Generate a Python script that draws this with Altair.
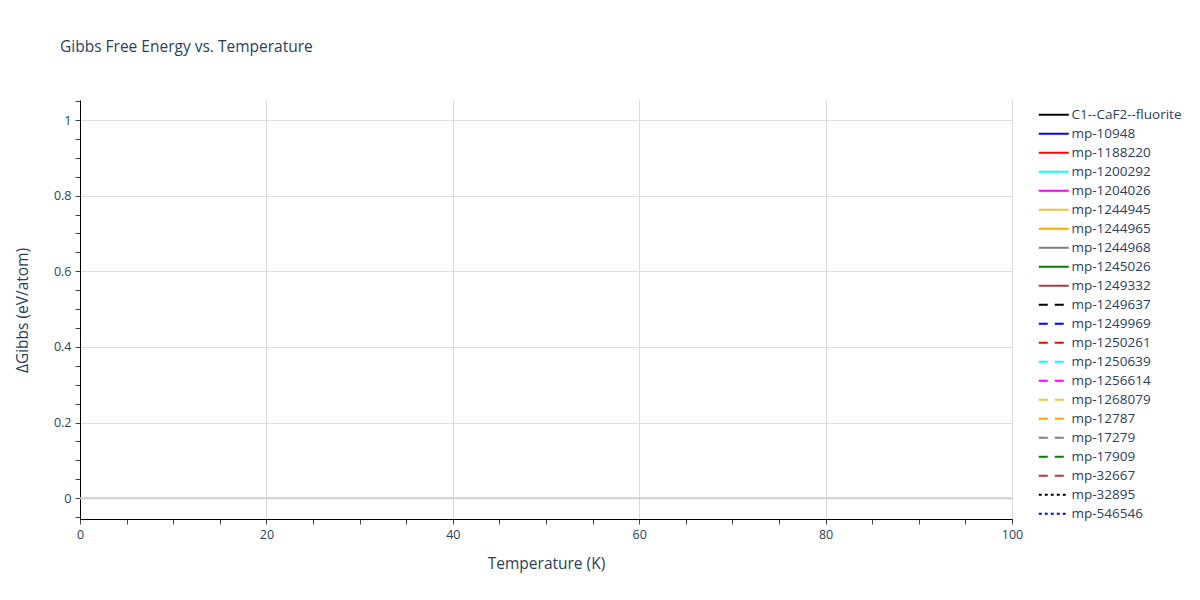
import altair as alt
import pandas as pd
import numpy as np

series = ["C1--CaF2--fluorite", "mp-10948", "mp-1188220", "mp-1200292", "mp-1204026",
          "mp-1244945", "mp-1244965", "mp-1244968", "mp-1245026", "mp-1249332",
          "mp-1249637", "mp-1249969", "mp-1250261", "mp-1250639", "mp-1256614",
          "mp-1268079", "mp-12787", "mp-17279", "mp-17909", "mp-32667",
          "mp-32895", "mp-546546"]
palette = ["#000000", "#0000ff", "#ff0000", "#00ffff", "#ff00ff",
           "#e8c33e", "#ffa500", "#808080", "#008000", "#ad3b3b"]
colors = palette + palette + palette[:2]
dashes = [[1, 0]] * 10 + [[9, 7]] * 10 + [[3, 3]] * 2

# No visible curves in the reference: each series has no plotted values
temperature = [np.nan for _ in series]
gibbs = [np.nan for _ in series]

df = pd.DataFrame({"series": series, "T": temperature, "G": gibbs})
zero = pd.DataFrame({"G": [0.0]})

FONT = "Open Sans"
TXT = "#2a3f5f"

x_ticks = list(range(0, 101, 5))
y_ticks = [round(-0.05 + 0.05 * i, 2) for i in range(23)]

x_axis = alt.Axis(
    values=x_ticks,
    labelExpr="datum.value % 20 === 0 ? datum.label : ''",
    gridOpacity={"condition": {"test": "datum.value % 20 === 0", "value": 1}, "value": 0},
    gridColor="#dcdcdc",
    domainColor="#000000",
    tickColor="#444444",
    tickSize=5,
    labelPadding=4,
    labelFlush=False,
    labelFont=FONT,
    labelFontSize=12.5,
    labelColor=TXT,
    title="Temperature (K)",
    titleFont=FONT,
    titleFontSize=15.5,
    titleFontWeight="normal",
    titleColor=TXT,
    titleX=466,
    titleY=44,
    titleBaseline="middle",
)

y_axis = alt.Axis(
    values=y_ticks,
    labelExpr="round(datum.value*100) % 20 === 0 ? format(datum.value, '~g') : ''",
    gridOpacity={"condition": {"test": "round(datum.value*100) % 20 === 0", "value": 1}, "value": 0},
    gridColor="#dcdcdc",
    domainColor="#000000",
    tickColor="#444444",
    tickSize=5,
    labelPadding=4,
    labelFlush=False,
    labelFont=FONT,
    labelFontSize=12.5,
    labelColor=TXT,
    title="ΔGibbs (eV/atom)",
    titleFont=FONT,
    titleFontSize=15.5,
    titleFontWeight="normal",
    titleColor=TXT,
    titleX=-58,
    titleY=210,
    titleBaseline="middle",
)

xs = alt.Scale(domain=[0, 100], nice=False, zero=False)
ys = alt.Scale(domain=[-0.055, 1.053], nice=False, zero=False)

zero_line = alt.Chart(zero).mark_rule(color="#d0d0d0", strokeWidth=2).encode(
    y=alt.Y("G:Q", scale=ys, axis=y_axis)
)

legend = alt.Legend(
    title=None,
    orient="none",
    legendX=967,
    legendY=8,
    symbolType="M-3,0H3",
    symbolSize=100,
    symbolStrokeWidth=2,
    rowPadding=4,
    labelOffset=11,
    labelFont=FONT,
    labelFontSize=13.5,
    labelColor=TXT,
    labelLimit=300,
)

lines = alt.Chart(df).mark_line(strokeWidth=2).encode(
    x=alt.X("T:Q", scale=xs, axis=x_axis),
    y=alt.Y("G:Q", scale=ys, axis=y_axis),
    color=alt.Color("series:N", scale=alt.Scale(domain=series, range=colors), legend=legend),
    strokeDash=alt.StrokeDash("series:N", scale=alt.Scale(domain=series, range=dashes), legend=legend),
)

chart = alt.layer(zero_line, lines).properties(
    width=932,
    height=419,
    autosize=alt.AutoSizeParams(type="none"),
    padding={"left": 72, "top": 92, "right": 180, "bottom": 73},
    title=alt.TitleParams(
        "Gibbs Free Energy vs. Temperature",
        anchor="start",
        frame="group",
        dx=-20,
        offset=45,
        font=FONT,
        fontSize=15.5,
        fontWeight="normal",
        color=TXT,
    ),
).configure_view(stroke=None)

chart.save("out.html", embed_options={"renderer": "svg", "actions": False})
